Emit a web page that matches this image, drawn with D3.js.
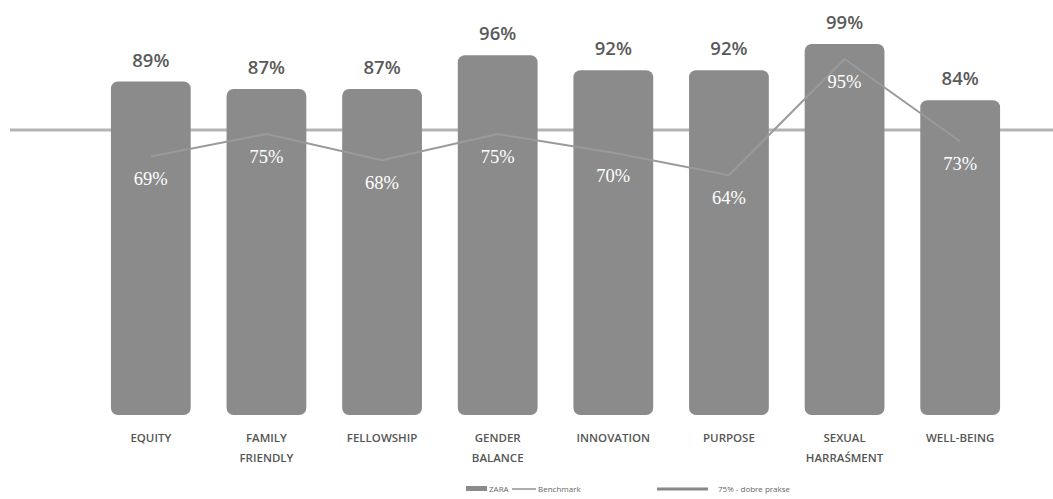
<!DOCTYPE html>
<html><head><meta charset="utf-8">
<script src="https://cdn.jsdelivr.net/npm/d3@7"></script>
<style>
html,body{margin:0;padding:0;background:#fff;}
svg{display:block;}
</style></head>
<body>
<svg id="chart" width="1053" height="499"></svg>
<script>
const categories = ["EQUITY","FAMILY|FRIENDLY","FELLOWSHIP","GENDER|BALANCE","INNOVATION","PURPOSE","SEXUAL|HARRAŚMENT","WELL-BEING"];
const zaraValues = [89, 87, 87, 96, 92, 92, 99, 84];
const benchmarkValues = [69, 75, 68, 75, 70, 64, 95, 73];
const goodPractice = 75;
const legendLabels = ["ZARA", "Benchmark", "75% - dobre prakse"];

const svg = d3.select("#chart");
const W = 1053;
const x = d3.scaleBand().domain(categories).range([93, 1018]).paddingInner(0.31).paddingOuter(0.155);
const y = d3.scaleLinear().domain([0, 100]).range([415, 40.3]);

const barColor = "#8b8b8b";
const lineColor = "#9a9a9a";

// 75% reference line (behind bars)
svg.append("line")
  .attr("x1", 10).attr("x2", W)
  .attr("y1", y(goodPractice)-4).attr("y2", y(goodPractice)-4)
  .attr("stroke", "#b4b4b4").attr("stroke-width", 3);

// bars with rounded corners
svg.selectAll("rect.bar").data(zaraValues).join("rect")
  .attr("class","bar")
  .attr("x", (d,i)=>x(categories[i]))
  .attr("width", x.bandwidth())
  .attr("y", d=>y(d))
  .attr("height", d=>y(0)-y(d))
  .attr("rx", 7).attr("ry", 7)
  .attr("fill", barColor);

// top value labels
svg.selectAll("text.top").data(zaraValues).join("text")
  .attr("class","top")
  .attr("x", (d,i)=>x(categories[i])+x.bandwidth()/2)
  .attr("y", d=>y(d)-15)
  .attr("text-anchor","middle")
  .attr("font-family","'Open Sans', sans-serif")
  .attr("font-weight","600")
  .attr("font-size", 18.5)
  .attr("fill","#5a5a5a")
  .text(d=>d+"%");

// benchmark line
const line = d3.line()
  .x((d,i)=>x(categories[i])+x.bandwidth()/2)
  .y(d=>y(d));
svg.append("path").datum(benchmarkValues)
  .attr("d", line)
  .attr("fill","none")
  .attr("stroke", lineColor)
  .attr("stroke-width", 2);

// benchmark labels
svg.selectAll("text.bench").data(benchmarkValues).join("text")
  .attr("class","bench")
  .attr("x", (d,i)=>x(categories[i])+x.bandwidth()/2)
  .attr("y", d=>y(d)+29)
  .attr("text-anchor","middle")
  .attr("font-family","'Liberation Serif', serif")
  .attr("font-size", 18.5)
  .attr("fill","#ffffff")
  .text(d=>d+"%");

// category labels
const cat = svg.selectAll("text.cat").data(categories).join("text")
  .attr("class","cat")
  .attr("x", d=>x(d)+x.bandwidth()/2)
  .attr("y", 442)
  .attr("text-anchor","middle")
  .attr("font-family","'Open Sans', sans-serif")
  .attr("font-weight","600")
  .attr("font-size", 11.5)
  .attr("fill","#555");
cat.each(function(d){
  const parts = d.split("|");
  const t = d3.select(this);
  parts.forEach((p,j)=>{
    t.append("tspan").attr("x", x(d)+x.bandwidth()/2).attr("dy", j===0?0:20).text(p);
  });
});

// legend
const lg = svg.append("g").attr("font-family","'Open Sans', sans-serif").attr("font-size", 8).attr("fill","#666");
lg.append("rect").attr("x",466).attr("y",486).attr("width",21).attr("height",5).attr("fill",barColor);
lg.append("text").attr("x",489).attr("y",492).text(legendLabels[0]);
lg.append("line").attr("x1",512).attr("x2",536).attr("y1",489).attr("y2",489).attr("stroke","#777").attr("stroke-width",1.2);
lg.append("text").attr("x",538).attr("y",492).text(legendLabels[1]);
lg.append("line").attr("x1",657).attr("x2",708).attr("y1",489).attr("y2",489).attr("stroke","#888").attr("stroke-width",3);
lg.append("text").attr("x",718).attr("y",492).text(legendLabels[2]);
</script>
</body></html>
